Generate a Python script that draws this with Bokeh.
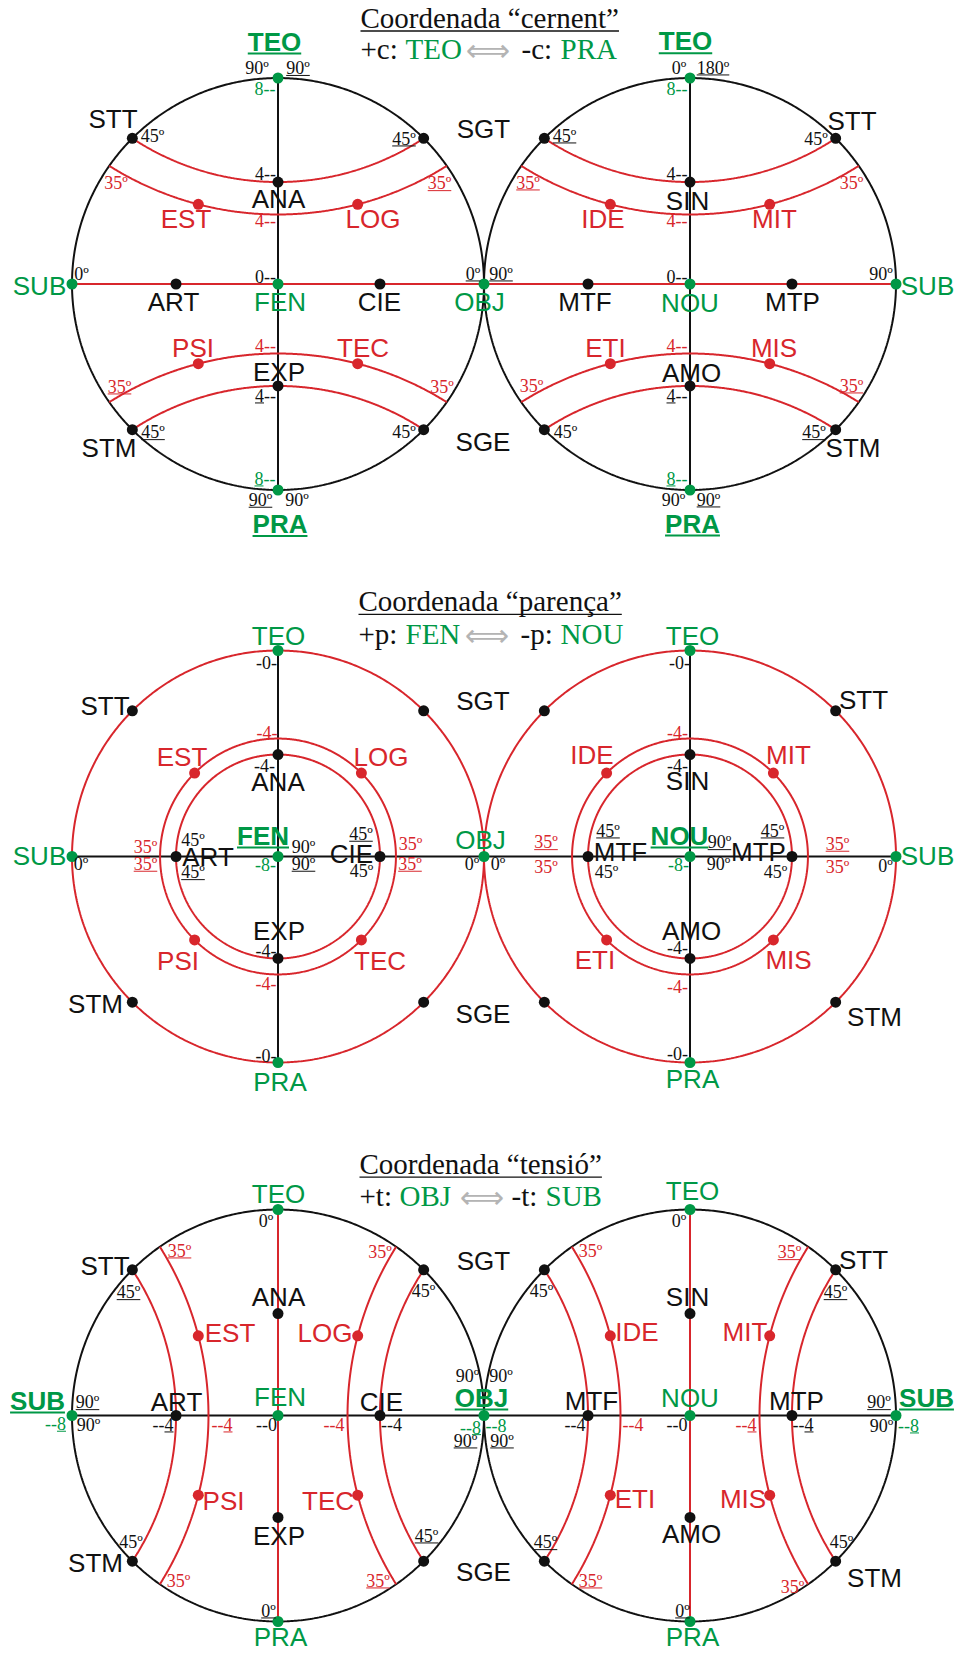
import numpy as np
from bokeh.plotting import figure
from bokeh.models import Range1d
from bokeh.core.properties import value
from bokeh.embed import file_html
from bokeh.resources import INLINE

# ---------------- data ----------------
titles = ["Coordenada “cernent”", "Coordenada “parença”", "Coordenada “tensió”"]
plus_sign = ["+c:", "+p:", "+t:"]
plus_pole = ["TEO", "FEN", "OBJ"]
minus_sign = ["-c:", "-p:", "-t:"]
minus_pole = ["PRA", "NOU", "SUB"]

rim_deg = [135, 45, 225, 315]
rim_names_left = ["STT", "SGT", "STM", "SGE"]
rim_names_right = ["SGT", "STT", "SGE", "STM"]
axis_deg = [90, 0, 270, 180]
axis_names_left = ["ANA", "CIE", "EXP", "ART"]
axis_names_right = ["SIN", "MTP", "AMO", "MTF"]
mid_deg = [135, 45, 225, 315]
mid_names_left = ["EST", "LOG", "PSI", "TEC"]
mid_names_right = ["IDE", "MIT", "ETI", "MIS"]
scale_max = 8.0
axis_value = 3.96                 # inner nodes on the 0..8 scale
arc_rim_deg = [45, 35]            # rim angle of the red arcs
arc_axis_value = [3.96, 2.7]      # where the red arcs cross the axis (0..8)
parenca_radius_value = [4.58, 3.96]  # red circles of "parença" (0..8)

# ---------------- layout ----------------
R = 206.0
CX = [277.5, 689.5]
CY = [283.5, 856.0, 1415.0]
GREEN = "#009846"
RED = "#d8262c"
BLACK = "#111111"
GREY = "#b4b4b4"
COL = {"k": BLACK, "g": GREEN, "r": RED}
SERIF = "Liberation Serif"
SANS = "Liberation Sans"

TW = {'0': .5, '1': .5, '2': .5, '3': .5, '4': .5, '5': .5, '6': .5, '7': .5, '8': .5, '9': .5,
      'º': .31, '-': .333, ' ': .25, '+': .564, ':': .278, 'C': .667, 'o': .5, 'r': .333, 'd': .5,
      'e': .444, 'n': .5, 'a': .444, '“': .444, '”': .444, 'c': .444, 't': .278, 'p': .5, 'ç': .444,
      's': .389, 'i': .278, 'ó': .5}
AW = {'T': .611, 'E': .667, 'O': .778, 'P': .667, 'R': .722, 'A': .722, 'F': .611, 'N': .722,
      'U': .722, 'S': .667, 'B': .722, 'J': .556}


def width(s, fs, table):
    return sum(table.get(ch, 0.6) for ch in s) * fs


p = figure(width=958, height=1653, x_range=Range1d(0, 958), y_range=Range1d(1653, 0),
           output_backend="svg", toolbar_location=None, min_border=0,
           x_axis_type=None, y_axis_type=None)
p.outline_line_color = None

theta = np.linspace(0, 2 * np.pi, 721)


def arc(phi_deg, val):
    phi = np.radians(phi_deg)
    pp, q, m = R * np.cos(phi), R * np.sin(phi), val / scale_max * R
    c = (R * R - m * m) / (2 * (q - m))
    r = c - m
    xs = np.linspace(-pp, pp, 300)
    ys = c - np.sqrt(r * r - xs * xs)
    t = (c - np.sqrt(2 * r * r - c * c)) / 2
    return xs, ys, t


dots = {"g": ([], []), "k": ([], []), "r": ([], [])}


def add_dot(col, x, y):
    dots[col][0].append(x)
    dots[col][1].append(y)


for pi_, cy in enumerate(CY):
    circ_col = RED if pi_ == 1 else BLACK
    for cx in CX:
        p.line(cx + R * np.cos(theta), cy - R * np.sin(theta), line_color=circ_col, line_width=2)
        p.line([cx, cx], [cy - R, cy + R], line_color=RED if pi_ == 2 else BLACK, line_width=2)
    p.line([CX[0] - R, CX[1] + R], [cy, cy], line_color=RED if pi_ == 0 else BLACK, line_width=2)

    for side, cx in enumerate(CX):
        for d in rim_deg:
            a = np.radians(d)
            add_dot("k", cx + R * np.cos(a), cy - R * np.sin(a))
        for d in axis_deg:
            a = np.radians(d)
            rr = axis_value / scale_max * R
            add_dot("k", cx + rr * np.cos(a), cy - rr * np.sin(a))
        if pi_ == 1:
            for v in parenca_radius_value:
                rr = v / scale_max * R
                p.line(cx + rr * np.cos(theta), cy - rr * np.sin(theta), line_color=RED, line_width=2)
            rr = parenca_radius_value[0] / scale_max * R
            for d in mid_deg:
                a = np.radians(d)
                add_dot("r", cx + rr * np.cos(a), cy - rr * np.sin(a))
        else:
            for k, (phd, val) in enumerate(zip(arc_rim_deg, arc_axis_value)):
                xs, ys, t = arc(phd, val)
                if pi_ == 0:
                    paths = [(xs, ys), (xs, -ys)]
                else:
                    paths = [(-ys, xs), (ys, xs)]
                for (u, v) in paths:
                    p.line(cx + u, cy - v, line_color=RED, line_width=2)
                if k == 1:
                    for sx in (-1, 1):
                        for sy in (-1, 1):
                            add_dot("r", cx + sx * t, cy - sy * t)
        add_dot("g", cx, cy - R)
        add_dot("g", cx, cy + R)
        add_dot("g", cx, cy)
    add_dot("g", CX[0] - R, cy)
    add_dot("g", (CX[0] + CX[1]) / 2, cy)
    add_dot("g", CX[1] + R, cy)

for col, (xs, ys) in dots.items():
    p.scatter(xs, ys, size=11, fill_color=COL[col], line_color=None)

# ---------------- labels ----------------
# (text, x_center, y_center, colour, kind, underline) kind: S sans, B sans bold, s serif
L = [
    # panel 1 left
    ("TEO", 274, 41, "g", "B", 1), ("90º", 256.5, 67.5, "k", "s", 0), ("90º", 297.5, 67.5, "k", "s", 1),
    ("8--", 264.5, 88.3, "g", "s", 0), ("STT", 112.5, 118, "k", "S", 0), ("45º", 152, 135, "k", "s", 0),
    ("45º", 403.5, 138, "k", "s", 1), ("SGT", 483, 128, "k", "S", 0), ("35º", 115.5, 182.7, "r", "s", 0),
    ("35º", 439, 182.7, "r", "s", 1), ("4--", 265, 172.7, "k", "s", 0), ("ANA", 278, 198.3, "k", "S", 0),
    ("EST", 185.5, 218.3, "r", "S", 0), ("LOG", 372.5, 218.3, "r", "S", 0), ("4--", 265, 220, "r", "s", 0),
    ("0º", 81, 273.3, "k", "s", 0), ("0--", 265, 275.7, "k", "s", 0), ("0º", 472.5, 273, "k", "s", 1),
    ("SUB", 39, 285, "g", "S", 0), ("ART", 173, 301.7, "k", "S", 0), ("FEN", 279.5, 301.7, "g", "S", 0),
    ("CIE", 379, 301.7, "k", "S", 0), ("OBJ", 479, 301.7, "g", "S", 0), ("PSI", 192.5, 347.7, "r", "S", 0),
    ("TEC", 362.5, 347.7, "r", "S", 0), ("4--", 265, 345, "r", "s", 0), ("EXP", 278.5, 371.7, "k", "S", 0),
    ("4--", 265, 395, "k", "s", 2), ("35º", 119, 386, "r", "s", 1), ("35º", 441.5, 386, "r", "s", 0),
    ("45º", 152.5, 431.7, "k", "s", 1), ("45º", 403.5, 431.7, "k", "s", 0), ("STM", 108.5, 447.7, "k", "S", 0),
    ("SGE", 482.5, 441.5, "k", "S", 0), ("8--", 264.5, 478, "g", "s", 2), ("90º", 260, 499.3, "k", "s", 1),
    ("90º", 296.5, 499.3, "k", "s", 0), ("PRA", 279.5, 523.3, "g", "B", 1),
    # panel 1 right
    ("TEO", 685, 40.7, "g", "B", 1), ("0º", 678.5, 67, "k", "s", 0), ("180º", 712.5, 67, "k", "s", 1),
    ("8--", 676.5, 88, "g", "s", 0), ("45º", 564, 135, "k", "s", 1), ("45º", 815.5, 138, "k", "s", 0),
    ("STT", 851.5, 120, "k", "S", 0), ("35º", 527.5, 182, "r", "s", 1), ("35º", 851, 182, "r", "s", 0),
    ("4--", 676.5, 172.7, "k", "s", 0), ("SIN", 687, 200, "k", "S", 0), ("IDE", 602.5, 218, "r", "S", 0),
    ("MIT", 774, 218, "r", "S", 0), ("4--", 676.5, 220, "r", "s", 0), ("90º", 500.5, 273, "k", "s", 1),
    ("0--", 676.5, 275.7, "k", "s", 0), ("90º", 880.5, 273, "k", "s", 0), ("SUB", 927, 285, "g", "S", 0),
    ("MTF", 584.5, 301.7, "k", "S", 0), ("NOU", 689.5, 302, "g", "S", 0), ("MTP", 792, 301.7, "k", "S", 0),
    ("ETI", 605, 347, "r", "S", 0), ("MIS", 773.5, 347, "r", "S", 0), ("4--", 676.5, 345, "r", "s", 0),
    ("AMO", 691, 372, "k", "S", 0), ("4--", 676.5, 395, "k", "s", 2), ("35º", 531, 385, "r", "s", 0),
    ("35º", 851, 385, "r", "s", 1), ("45º", 565, 431.7, "k", "s", 0), ("45º", 813.5, 431.7, "k", "s", 1),
    ("STM", 852.5, 447.7, "k", "S", 0), ("8--", 676.5, 478, "g", "s", 2), ("90º", 673, 499, "k", "s", 0),
    ("90º", 708, 499, "k", "s", 1), ("PRA", 692, 523, "g", "B", 1),
    # panel 2 left
    ("TEO", 278, 635, "g", "S", 0), ("-0-", 266, 661.7, "k", "s", 0), ("STT", 104.5, 705, "k", "S", 0),
    ("SGT", 482.5, 700, "k", "S", 0), ("-4-", 266.5, 732.3, "r", "s", 0), ("EST", 181.5, 756, "r", "S", 0),
    ("LOG", 380.5, 756, "r", "S", 0), ("-4-", 264, 765, "k", "s", 0), ("ANA", 277.5, 781.7, "k", "S", 0),
    ("SUB", 39, 855.7, "g", "S", 0), ("0º", 80.5, 863.3, "k", "s", 0), ("35º", 145, 846.7, "r", "s", 0),
    ("35º", 145, 863.3, "r", "s", 1), ("45º", 192.5, 839.3, "k", "s", 0), ("ART", 207.5, 856, "k", "S", 0),
    ("45º", 192.5, 871.7, "k", "s", 1), ("FEN", 262.5, 835, "g", "B", 1), ("90º", 303, 846.7, "k", "s", 0),
    ("-8-", 265, 864.3, "g", "s", 0), ("90º", 303, 863.3, "k", "s", 1), ("45º", 360.5, 833.3, "k", "s", 1),
    ("CIE", 351, 853.3, "k", "S", 0), ("45º", 361, 870.7, "k", "s", 0), ("35º", 410, 843.3, "r", "s", 0),
    ("35º", 409.5, 863.3, "r", "s", 1), ("OBJ", 480, 839.3, "g", "S", 0), ("0º", 471.5, 863.3, "k", "s", 0),
    ("EXP", 278.5, 930, "k", "S", 0), ("-4-", 265.5, 950, "k", "s", 0), ("PSI", 177.5, 960, "r", "S", 0),
    ("TEC", 379.5, 960, "r", "S", 0), ("-4-", 265.5, 982.7, "r", "s", 0), ("STM", 95, 1003.3, "k", "S", 0),
    ("SGE", 482.5, 1013, "k", "S", 0), ("-0-", 265.5, 1055, "k", "s", 0), ("PRA", 279.5, 1081.7, "g", "S", 0),
    # panel 2 right
    ("TEO", 692, 635, "g", "S", 0), ("-0-", 679, 661.7, "k", "s", 0), ("STT", 863, 699.3, "k", "S", 0),
    ("-4-", 677, 732, "r", "s", 0), ("IDE", 591.5, 754.3, "r", "S", 0), ("MIT", 788, 754.3, "r", "S", 0),
    ("-4-", 677, 765, "k", "s", 0), ("SIN", 687, 780, "k", "S", 0), ("0º", 497.5, 863.3, "k", "s", 0),
    ("35º", 545.5, 841.7, "r", "s", 1), ("35º", 545.5, 866.7, "r", "s", 0), ("45º", 607.5, 830, "k", "s", 1),
    ("MTF", 620, 851.7, "k", "S", 0), ("45º", 606, 871.7, "k", "s", 0), ("NOU", 679, 835, "g", "B", 1),
    ("90º", 719, 841.7, "k", "s", 1), ("-8-", 678, 864.3, "g", "s", 0), ("90º", 718, 863.3, "k", "s", 0),
    ("45º", 772, 830, "k", "s", 1), ("MTP", 758, 851.7, "k", "S", 0), ("45º", 775, 871.7, "k", "s", 0),
    ("35º", 837, 843.3, "r", "s", 1), ("35º", 837, 866.7, "r", "s", 0), ("0º", 885, 865, "k", "s", 0),
    ("SUB", 927, 855, "g", "S", 0), ("AMO", 691, 930, "k", "S", 0), ("-4-", 677, 946.7, "k", "s", 0),
    ("ETI", 594.5, 959.3, "r", "S", 0), ("MIS", 788, 959.3, "r", "S", 0), ("-4-", 677, 986, "r", "s", 0),
    ("STM", 874, 1016.7, "k", "S", 0), ("-0-", 677, 1053.3, "k", "s", 0), ("PRA", 692, 1078.3, "g", "S", 0),
    # panel 3 left
    ("TEO", 278, 1193.3, "g", "S", 0), ("0º", 265.5, 1220, "k", "s", 0), ("STT", 104.5, 1265, "k", "S", 0),
    ("35º", 179, 1250, "r", "s", 1), ("45º", 128, 1291.7, "k", "s", 1), ("ANA", 278, 1296.7, "k", "S", 0),
    ("EST", 229.5, 1332.3, "r", "S", 0), ("LOG", 324.5, 1332.3, "r", "S", 0), ("35º", 379.5, 1251.7, "r", "s", 0),
    ("45º", 423, 1290, "k", "s", 0), ("SGT", 483, 1260, "k", "S", 0), ("90º", 467, 1375, "k", "s", 0),
    ("SUB", 37, 1400, "g", "B", 1), ("90º", 87, 1401.7, "k", "s", 1), ("--8", 55, 1423.3, "g", "s", 3),
    ("90º", 88, 1424, "k", "s", 0), ("ART", 176, 1401.7, "k", "S", 0), ("--4", 162.5, 1424, "k", "s", 3),
    ("--4", 221.5, 1424, "r", "s", 3), ("FEN", 279.5, 1396.7, "g", "S", 0), ("--0", 266, 1424, "k", "s", 0),
    ("--4", 333.5, 1424, "r", "s", 0), ("CIE", 381, 1401.7, "k", "S", 0), ("--4", 391, 1424, "k", "s", 0),
    ("OBJ", 481, 1397, "g", "B", 1), ("--8", 470, 1426.7, "g", "s", 3), ("90º", 465, 1440, "k", "s", 1),
    ("PSI", 223, 1500, "r", "S", 0), ("TEC", 327.5, 1500, "r", "S", 0), ("EXP", 278.5, 1535, "k", "S", 0),
    ("45º", 130.5, 1541.7, "k", "s", 0), ("STM", 95, 1562.7, "k", "S", 0), ("35º", 178, 1580, "r", "s", 0),
    ("35º", 377.5, 1580, "r", "s", 1), ("45º", 426, 1535, "k", "s", 1), ("SGE", 483, 1571.7, "k", "S", 0),
    ("0º", 268, 1610, "k", "s", 1), ("PRA", 280, 1636.7, "g", "S", 0),
    # panel 3 right
    ("TEO", 692, 1190, "g", "S", 0), ("0º", 678.5, 1220, "k", "s", 0), ("35º", 590, 1250, "r", "s", 0),
    ("45º", 541, 1290, "k", "s", 0), ("SIN", 687, 1296.7, "k", "S", 0), ("IDE", 636.5, 1331.7, "r", "S", 0),
    ("MIT", 744.5, 1331.7, "r", "S", 0), ("35º", 789, 1251.7, "r", "s", 1), ("STT", 863, 1259.3, "k", "S", 0),
    ("45º", 835, 1291.7, "k", "s", 1), ("90º", 500.5, 1375, "k", "s", 0), ("--8", 495.5, 1425, "g", "s", 0),
    ("90º", 501.5, 1440, "k", "s", 1), ("MTF", 591, 1400, "k", "S", 0), ("--4", 574.5, 1424, "k", "s", 0),
    ("--4", 632.5, 1424, "r", "s", 0), ("NOU", 689.5, 1397.3, "g", "S", 0), ("--0", 676.5, 1424, "k", "s", 0),
    ("--4", 745.5, 1424, "r", "s", 3), ("MTP", 796, 1400, "k", "S", 0), ("--4", 802.5, 1424, "k", "s", 3),
    ("90º", 878.5, 1401.7, "k", "s", 1), ("SUB", 926, 1397, "g", "B", 1), ("90º", 881, 1425, "k", "s", 0),
    ("--8", 908, 1425, "g", "s", 3), ("ETI", 634.5, 1498.3, "r", "S", 0), ("MIS", 742.5, 1498.3, "r", "S", 0),
    ("AMO", 691, 1533.3, "k", "S", 0), ("45º", 545, 1541.7, "k", "s", 1), ("35º", 590, 1580, "r", "s", 1),
    ("35º", 792, 1586.7, "r", "s", 0), ("45º", 841, 1541.7, "k", "s", 0), ("STM", 874, 1577.3, "k", "S", 0),
    ("0º", 682, 1610, "k", "s", 1), ("PRA", 692, 1636.7, "g", "S", 0),
]

FS = {"S": 26, "B": 26, "s": 18}
groups = {}
ux0, ux1, uy, uw, uc = [], [], [], [], []
for (t, x, y, c, kind, ul) in L:
    fs = FS[kind]
    table = TW if kind == "s" else AW
    g = groups.setdefault(kind, {"x": [], "y": [], "t": [], "c": []})
    g["x"].append(x); g["y"].append(y); g["t"].append(t); g["c"].append(COL[c])
    if ul:
        w = width(t, fs, table)
        left, right = x - w / 2, x + w / 2
        if ul == 2:
            right = left + width(t[0], fs, table)
        elif ul == 3:
            left = right - width(t[-1], fs, table)
        ux0.append(left); ux1.append(right)
        uy.append(y + (0.33 * fs + 1.5 if kind == "s" else 0.358 * fs + 2.8))
        uw.append(1.0 if kind == "s" else 2.0)
        uc.append(COL[c])

for kind, g in groups.items():
    p.text(x=g["x"], y=g["y"], text=g["t"], text_color=g["c"],
           text_font=value(SERIF if kind == "s" else SANS), text_font_size="%dpx" % FS[kind],
           text_font_style="bold" if kind == "B" else "normal",
           text_align="center", text_baseline="alphabetic")
p.segment(x0=ux0, y0=uy, x1=ux1, y1=uy, line_color=uc, line_width=uw)

# ---------------- titles ----------------
TFS = 29
title_x = [360, 358, 359]
title_mid = [17.5, 600.8, 1163.7]
line2_mid = [48.8, 633.3, 1195.0]
seg_x = [[360, 405, 521, 560], [358, 405, 520, 560], [359, 399, 511, 545]]
arrow_x = [(467, 508), (467, 506), (462, 501)]
tx, ty, tt, tc = [], [], [], []
for i in range(3):
    tx.append(title_x[i]); ty.append(title_mid[i]); tt.append(titles[i]); tc.append(BLACK)
    w = width(titles[i], TFS, TW)
    p.segment(x0=[title_x[i]], y0=[title_mid[i] + 13], x1=[title_x[i] + w], y1=[title_mid[i] + 13],
              line_color=BLACK, line_width=1.3)
    parts = [plus_sign[i], plus_pole[i], minus_sign[i], minus_pole[i]]
    cols = [BLACK, GREEN, BLACK, GREEN]
    for xx, s, cc in zip(seg_x[i], parts, cols):
        tx.append(xx); ty.append(line2_mid[i]); tt.append(s); tc.append(cc)
p.text(x=tx, y=ty, text=tt, text_color=tc, text_font=value(SERIF), text_font_size="%dpx" % TFS,
       text_align="left", text_baseline="alphabetic")
p.text(x=[(a + b) / 2 for a, b in arrow_x], y=[line2_mid[i] + 1 for i in range(3)], text=["⟺"] * 3,
       text_color=GREY, text_font=value("DejaVu Sans"), text_font_size="31px",
       text_align="center", text_baseline="middle")

open("out.html", "w").write(file_html(p, INLINE))
